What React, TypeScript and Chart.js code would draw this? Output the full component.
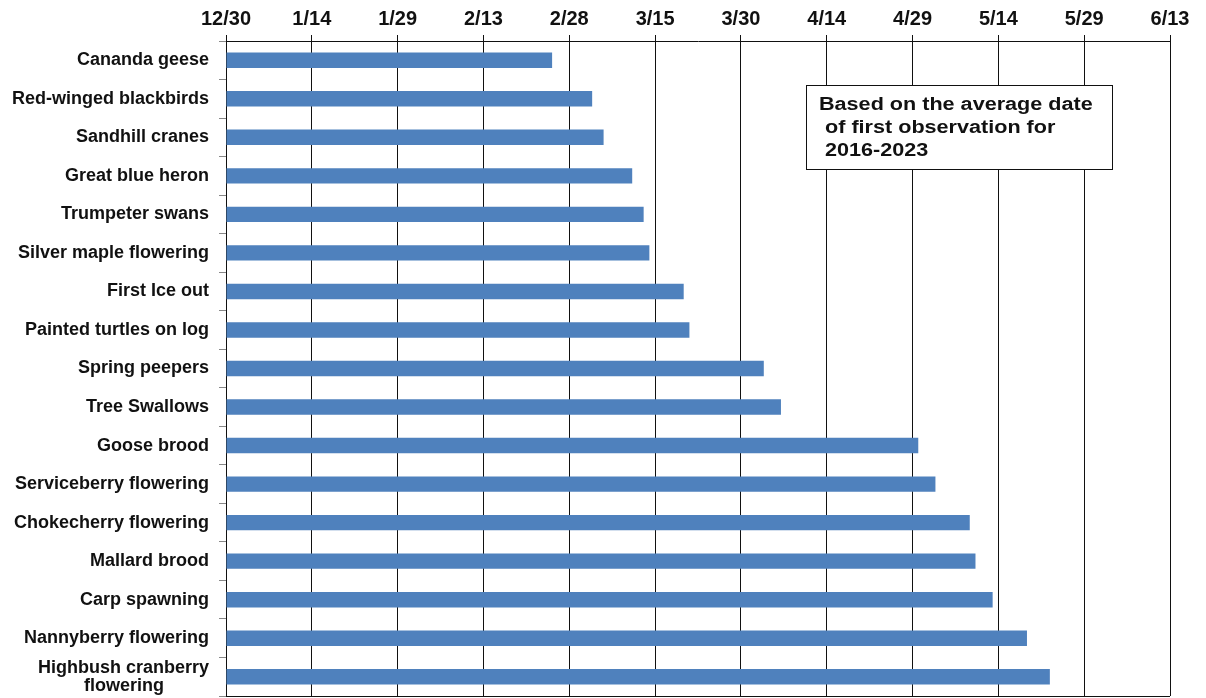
import React, { useEffect, useRef } from "react";
import { Chart, registerables } from "chart.js";

Chart.register(...registerables);

const categories: (string | string[])[] = [
  "Cananda geese",
  "Red-winged blackbirds",
  "Sandhill cranes",
  "Great blue heron",
  "Trumpeter swans",
  "Silver maple flowering",
  "First Ice out",
  "Painted turtles on log",
  "Spring peepers",
  "Tree Swallows",
  "Goose brood",
  "Serviceberry flowering",
  "Chokecherry flowering",
  "Mallard brood",
  "Carp spawning",
  "Nannyberry flowering",
  ["Highbush cranberry", "flowering         "],
];

// days after 12/30 (average date of first observation)
const daysAfterStart: number[] = [
  57, 64, 66, 71, 73, 74, 80, 81, 94, 97, 121, 124, 130, 131, 134, 140, 144,
];

const tickLabels: string[] = [
  "12/30", "1/14", "1/29", "2/13", "2/28", "3/15",
  "3/30", "4/14", "4/29", "5/14", "5/29", "6/13",
];
const tickStepDays = 15;

const noteLines: string[] = [
  "Based on the average date",
  "of first observation for",
  "2016-2023",
];

const FONT = '"Liberation Sans", Arial, Helvetica, sans-serif';

const bottomBorder = {
  id: "bottomBorder",
  afterDraw(chart: any) {
    const { ctx, chartArea } = chart;
    ctx.save();
    ctx.strokeStyle = "#111";
    ctx.lineWidth = 1;
    ctx.beginPath();
    ctx.moveTo(chartArea.left, chartArea.bottom + 0.5);
    ctx.lineTo(chartArea.right, chartArea.bottom + 0.5);
    ctx.stroke();
    ctx.restore();
  },
};

export default function App() {
  const canvasRef = useRef<HTMLCanvasElement | null>(null);

  useEffect(() => {
    if (!canvasRef.current) return;
    const chart = new Chart(canvasRef.current, {
      type: "bar",
      data: {
        labels: categories,
        datasets: [
          {
            data: daysAfterStart,
            backgroundColor: "#4F81BD",
            borderWidth: 0,
            categoryPercentage: 1,
            barPercentage: 0.4,
          },
        ],
      },
      options: {
        indexAxis: "y",
        animation: false,
        responsive: false,
        devicePixelRatio: 1,
        layout: { padding: { left: 0, top: 0, right: 36, bottom: 2 } },
        plugins: {
          legend: { display: false },
          tooltip: { enabled: false },
        },
        scales: {
          x: {
            type: "linear",
            position: "top",
            min: 0,
            max: tickLabels.length * tickStepDays - tickStepDays,
            afterFit: (scale: any) => {
              scale.height = 41;
            },
            ticks: {
              stepSize: tickStepDays,
              autoSkip: false,
              maxRotation: 0,
              padding: 4,
              color: "#111",
              font: { family: FONT, size: 20, weight: "bold" },
              callback: (v: any) => tickLabels[Math.round(Number(v) / tickStepDays)] ?? "",
            },
            grid: {
              color: "#111",
              lineWidth: 1,
              tickLength: 6,
              drawTicks: true,
            },
            border: { display: true, color: "#111", width: 1 },
          },
          y: {
            type: "category",
            afterFit: (scale: any) => {
              scale.width = 226;
              scale.paddingTop = 0;
              scale.paddingBottom = 0;
            },
            ticks: {
              autoSkip: false,
              padding: 10,
              color: "#111",
              font: { family: FONT, size: 18, weight: "bold", lineHeight: 1.0 },
            },
            grid: {
              drawOnChartArea: false,
              drawTicks: true,
              tickLength: 7,
              color: "#888",
              offset: true,
            },
            border: { display: true, color: "#111", width: 1 },
          },
        },
      },
      plugins: [bottomBorder],
    } as any);
    return () => chart.destroy();
  }, []);

  return (
    <div
      style={{
        position: "absolute",
        left: 0,
        top: 0,
        width: 1206,
        height: 698,
        background: "#fff",
        overflow: "hidden",
      }}
    >
      <canvas ref={canvasRef} width={1206} height={698} style={{ display: "block" }} />
      <div
        style={{
          position: "absolute",
          left: 806,
          top: 85,
          width: 307,
          height: 85,
          boxSizing: "border-box",
          border: "1.5px solid #111",
          background: "#fff",
          paddingLeft: 12,
          paddingTop: 7,
          fontFamily: FONT,
          fontWeight: "bold",
          fontSize: 18,
          lineHeight: "23px",
          color: "#111",
          whiteSpace: "nowrap",
        }}
      >
        <div style={{ transform: "scaleX(1.2)", transformOrigin: "left top" }}>
          {noteLines.map((line, i) => (
            <div key={i} style={{ marginLeft: i === 0 ? 0 : 5 }}>
              {line}
            </div>
          ))}
        </div>
      </div>
    </div>
  );
}
